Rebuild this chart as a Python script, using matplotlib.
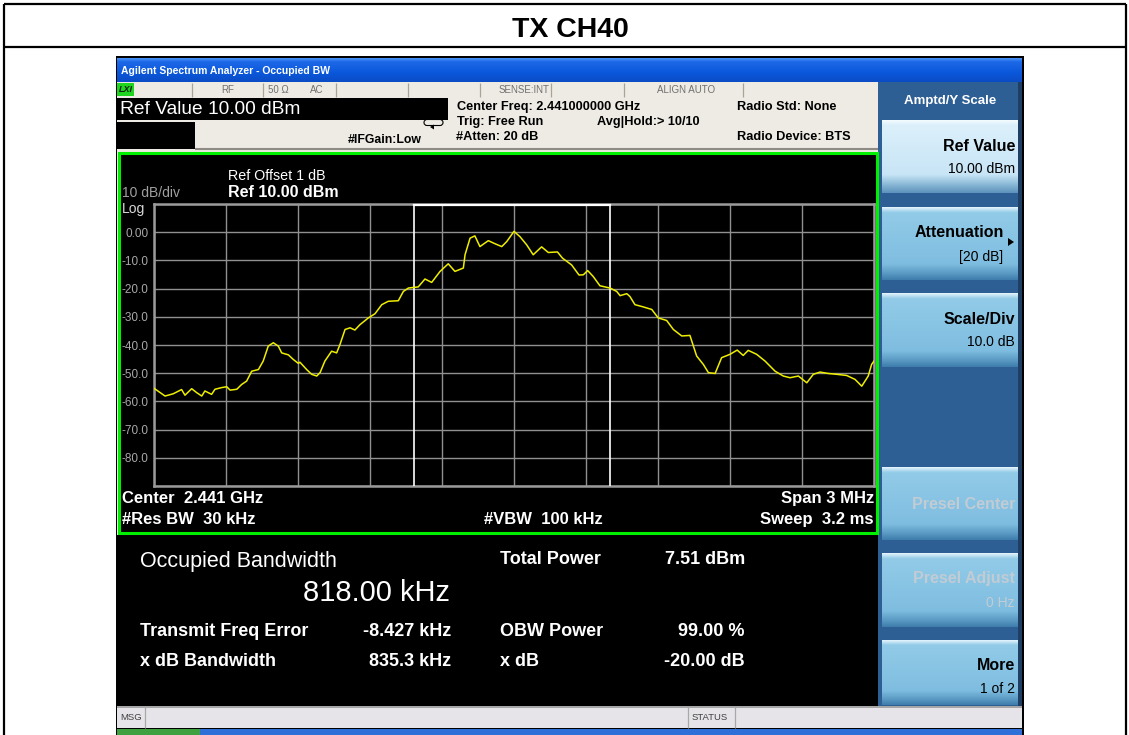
import numpy as np
import matplotlib
matplotlib.use("Agg")
import matplotlib.pyplot as plt
from matplotlib.patches import Rectangle, Polygon, FancyBboxPatch
from matplotlib.colors import to_rgb

# ---------------- data ----------------
freq_mhz = [-1.499, -1.454, -1.420, -1.385, -1.371, -1.343, -1.322, -1.301, -1.288, -1.260,
            -1.246, -1.218, -1.197, -1.183, -1.155, -1.135, -1.114, -1.093, -1.065, -1.045,
            -1.024, -1.003, -0.982, -0.968, -0.940, -0.920, -0.899, -0.892, -0.864, -0.843,
            -0.822, -0.808, -0.788, -0.760, -0.739, -0.725, -0.704, -0.683, -0.663, -0.642,
            -0.607, -0.579, -0.551, -0.524, -0.482, -0.461, -0.440, -0.399, -0.371, -0.343,
            -0.308, -0.274, -0.246, -0.211, -0.204, -0.183, -0.163, -0.142, -0.107, -0.079,
            -0.051, -0.030, 0.000, 0.025, 0.053, 0.080, 0.115, 0.143, 0.181, 0.202,
            0.240, 0.271, 0.289, 0.307, 0.330, 0.358, 0.400, 0.428, 0.442, 0.470,
            0.483, 0.504, 0.539, 0.574, 0.601, 0.636, 0.664, 0.699, 0.733, 0.761,
            0.789, 0.810, 0.838, 0.865, 0.900, 0.930, 0.955, 0.976, 1.011, 1.046,
            1.088, 1.122, 1.150, 1.185, 1.220, 1.247, 1.275, 1.310, 1.345, 1.386,
            1.421, 1.449, 1.476, 1.490, 1.500]
level_dbm = [-55.4, -58.1, -57.3, -55.8, -57.8, -55.5, -56.9, -58.1, -56.3, -57.5,
             -55.7, -55.1, -54.8, -56.0, -55.7, -54.0, -52.8, -49.3, -48.7, -45.7,
             -40.4, -39.2, -40.4, -42.8, -43.5, -45.1, -46.5, -46.1, -48.7, -50.4,
             -51.0, -49.8, -45.7, -42.2, -42.8, -39.8, -34.5, -33.9, -34.7, -32.8,
             -30.4, -28.9, -25.7, -24.5, -24.3, -21.0, -19.8, -19.4, -16.6, -17.8,
             -13.9, -11.2, -13.9, -12.7, -8.0, -2.1, -1.3, -5.1, -3.0, -4.1,
             -5.1, -3.3, 0.3, -1.6, -4.5, -8.0, -5.2, -7.2, -7.0, -9.2,
             -11.6, -15.2, -15.1, -13.6, -15.7, -19.0, -19.8, -21.0, -22.5, -21.8,
             -22.8, -25.7, -26.5, -27.4, -30.4, -31.3, -34.5, -36.8, -36.6, -43.9,
             -46.9, -49.8, -50.1, -44.5, -43.3, -41.8, -43.7, -41.9, -43.3, -45.7,
             -49.3, -51.0, -51.6, -51.0, -53.4, -50.4, -49.6, -50.1, -50.4, -50.8,
             -52.2, -54.6, -51.0, -46.9, -45.7]

span_mhz = 3.0
ref_level_dbm = 10.0
scale_db_per_div = 10.0
obw_khz = 818.00
freq_err_khz = -8.427
ytick_values = [0, -10, -20, -30, -40, -50, -60, -70, -80]
ytick_labels = ["0.00", "-10.0", "-20.0", "-30.0", "-40.0", "-50.0", "-60.0", "-70.0", "-80.0"]

result_rows = [("Transmit Freq Error", "-8.427 kHz", "OBW Power", "99.00 %"),
               ("x dB Bandwidth", "835.3 kHz", "x dB", "-20.00 dB")]

FONT = ["Liberation Sans", "DejaVu Sans"]
plt.rcParams["font.family"] = FONT

W, H = 1129, 735
fig = plt.figure(figsize=(W / 100, H / 100), dpi=100)
fig.patch.set_facecolor("white")
bg = fig.add_axes([0, 0, 1, 1])
bg.set_xlim(0, W)
bg.set_ylim(H, 0)
bg.axis("off")


def rect(x0, y0, x1, y1, fc, ec="none", lw=0, z=1):
    bg.add_patch(Rectangle((x0, y0), x1 - x0, y1 - y0, facecolor=fc,
                           edgecolor=ec, linewidth=lw, zorder=z))


def grad(x0, y0, x1, y1, stops, z=1):
    t = np.linspace(0, 1, 80)
    pos = [s[0] for s in stops]
    cols = np.array([to_rgb(s[1]) for s in stops])
    arr = np.stack([np.interp(t, pos, cols[:, i]) for i in range(3)], axis=-1)[:, None, :]
    bg.imshow(arr, extent=(x0, x1, y1, y0), aspect="auto", zorder=z,
              interpolation="bilinear")


def txt(x, y, s, size=9, color="black", weight="normal", ha="left", va="center", z=5, **kw):
    bg.text(x, y, s, fontsize=size, color=color, fontweight=weight, ha=ha, va=va,
            zorder=z, **kw)


def hline(y, x0, x1, color="black", lw=1.0, z=3):
    bg.plot([x0, x1], [y, y], color=color, lw=lw, zorder=z, solid_capstyle="butt")


def vline(x, y0, y1, color="black", lw=1.0, z=3):
    bg.plot([x, x], [y0, y1], color=color, lw=lw, zorder=z, solid_capstyle="butt")


# ---------------- outer table frame ----------------
hline(4, 4, 1126, lw=1.6)
hline(47, 4, 1126, lw=1.6)
vline(4, 4, 735, lw=1.6)
vline(1126, 4, 735, lw=1.6)
txt(570, 30, "TX CH40", size=20.5, weight="bold", ha="center")

# ---------------- analyzer window ----------------
rect(116, 56, 1024, 735, "black", z=1)
grad(117, 58, 1022, 82, [(0, "#4A93F5"), (0.15, "#1D69E8"), (0.6, "#0B58DC"), (1, "#0A4CC4")], z=2)
txt(121, 71, "Agilent Spectrum Analyzer - Occupied BW", size=7.5, color="white", weight="bold")

# status row
rect(117, 82, 878, 97, "#EEEBE4", z=2)
rect(117, 83, 134, 96, "#1FD51F", z=3)
txt(125.5, 89.5, "LXI", size=6.5, weight="bold", style="italic", ha="center", color="#102010")
for sx in [192, 263, 336, 408, 480, 551, 624, 743]:
    vline(sx, 83, 97, color="#A8A49C", lw=0.9)
txt(228, 90, "RF", size=7, color="#707070", ha="center")
txt(278, 90, "50 Ω", size=7, color="#707070", ha="center")
txt(317, 90, "AC", size=7, color="#707070", ha="center")
txt(524, 90, "SENSE:INT", size=7, color="#707070", ha="center")
txt(686, 90, "ALIGN AUTO", size=7, color="#707070", ha="center")

# info rows
rect(117, 97, 878, 151, "#EEEBE4", z=2)
rect(117, 98, 448, 120, "black", z=3)
rect(117, 122, 195, 149, "black", z=3)
hline(148.5, 195, 878, color="#8E8A84", lw=1.5)
txt(120, 109.5, "Ref Value 10.00 dBm", size=13.8, color="white")
txt(348, 140, "#IFGain:Low", size=8.8, weight="bold")
bg.add_patch(FancyBboxPatch((424, 119.5), 19, 6, boxstyle="round,pad=0,rounding_size=3",
                            facecolor="none", edgecolor="black", lw=0.8, zorder=4))
bg.add_patch(Polygon([[430, 127], [434, 124.5], [434, 129.5]], closed=True, fc="black", zorder=4))
txt(457, 106.5, "Center Freq: 2.441000000 GHz", size=9.2, weight="bold")
txt(457, 121.5, "Trig: Free Run", size=9.2, weight="bold")
txt(456, 136.5, "#Atten: 20 dB", size=9.2, weight="bold")
txt(597, 121.5, "Avg|Hold:> 10/10", size=9.2, weight="bold")
txt(737, 106.5, "Radio Std: None", size=9.2, weight="bold")
txt(737, 136.5, "Radio Device: BTS", size=9.2, weight="bold")

# green display frame
rect(117, 151, 878, 535, "#EEEBE4", z=2)
rect(119, 152.5, 877, 533, "black", ec="#00F000", lw=2.2, z=3)
txt(122, 193, "10 dB/div", size=10, color="#A0A0A0")
txt(122, 209, "Log", size=10, color="#D8D8D8")
txt(228, 176, "Ref Offset 1 dB", size=10.3, color="white")
txt(228, 192.5, "Ref 10.00 dBm", size=11.5, color="white", weight="bold")
txt(122, 498, "Center  2.441 GHz", size=12, color="white", weight="bold")
txt(122, 519.5, "#Res BW  30 kHz", size=12, color="white", weight="bold")
txt(484, 519.5, "#VBW  100 kHz", size=12, color="white", weight="bold")
txt(874, 498, "Span 3 MHz", size=12, color="white", weight="bold", ha="right")
txt(874, 519.5, "Sweep  3.2 ms", size=12, color="white", weight="bold", ha="right")

# results panel
rect(117, 539, 877, 706, "black", z=3)
txt(140, 562, "Occupied Bandwidth", size=15.5, color="white")
txt(450, 593, "818.00 kHz", size=21, color="white", ha="right")
txt(500, 559, "Total Power", size=13, color="white", weight="bold")
txt(745, 559, "7.51 dBm", size=13, color="white", weight="bold", ha="right")
for i, (l1, v1, l2, v2) in enumerate(result_rows):
    yy = 631 + i * 31
    txt(140, yy, l1, size=13, color="white", weight="bold")
    txt(451, yy, v1, size=13, color="white", weight="bold", ha="right")
    txt(500, yy, l2, size=13, color="white", weight="bold")
    txt(745, yy, v2, size=13, color="white", weight="bold", ha="right")

# status bar
rect(117, 706, 1022, 728, "#E6E4E8", z=3)
hline(707, 117, 1022, color="#9A9A9A", lw=1.2, z=4)
vline(145, 707, 728, color="#A8A8A8", lw=0.9, z=4)
vline(688, 707, 728, color="#A8A8A8", lw=0.9, z=4)
vline(735, 707, 728, color="#A8A8A8", lw=0.9, z=4)
txt(120, 718, "MSG", size=6.8, color="#404040", z=5)
txt(692, 718, "STATUS", size=6.8, color="#404040", z=5)
rect(117, 729, 200, 735, "#3FA03F", z=3)
rect(200, 729, 1022, 735, "#2F6FD8", z=3)

# softkey panel
rect(878, 82, 1022, 706, "#2D5E94", z=2)
rect(1018, 82, 1022, 706, "#1E3E64", z=3)
txt(950, 101, "Amptd/Y Scale", size=9.5, color="white", weight="bold", ha="center")
active = [(0, "#F4FBFF"), (0.06, "#DCF0FB"), (0.75, "#C8E5F6"), (0.88, "#8DBBD8"), (1, "#5D93BC")]
normal = [(0, "#E2F2FB"), (0.07, "#92CBE8"), (0.78, "#7FBDE0"), (0.9, "#5E9EC6"), (1, "#3F7EAD")]
buttons = [(120, 193, active), (207, 280, normal), (293, 367, normal),
           (467, 540, normal), (553, 627, normal), (640, 705, normal)]
for (y0, y1, st) in buttons:
    grad(882, y0, 1018, y1, st, z=3)
txt(1015, 146, "Ref Value", size=11.5, weight="bold", ha="right")
txt(1015, 169, "10.00 dBm", size=10, ha="right")
txt(1004, 232, "Attenuation", size=11.5, weight="bold", ha="right")
bg.add_patch(Polygon([[1008, 238], [1008, 246], [1014, 242]], closed=True, fc="black", zorder=5))
txt(1003, 257, "[20 dB]", size=10, ha="right")
txt(1015, 319, "Scale/Div", size=11.5, weight="bold", ha="right")
txt(1015, 342, "10.0 dB", size=10, ha="right")
txt(1015, 504, "Presel Center", size=11.5, weight="bold", ha="right", color="#C2CCD4")
txt(1015, 579, "Presel Adjust", size=11.5, weight="bold", ha="right", color="#C2CCD4")
txt(1015, 603, "0 Hz", size=10, ha="right", color="#C2CCD4")
txt(1015, 665, "More", size=11.5, weight="bold", ha="right")
txt(1015, 689, "1 of 2", size=10, ha="right")

bg.set_xlim(0, W)
bg.set_ylim(H, 0)

# ---------------- spectrum plot ----------------
px0, px1, py0, py1 = 154, 874, 204, 486
ax = fig.add_axes([px0 / W, 1 - py1 / H, (px1 - px0) / W, (py1 - py0) / H])
ax.set_facecolor("black")
half = span_mhz / 2
bottom = ref_level_dbm - 10 * scale_db_per_div
ax.set_xlim(-half, half)
ax.set_ylim(bottom, ref_level_dbm)
ax.set_xticks(np.linspace(-half, half, 11))
ax.set_xticklabels([])
ax.set_yticks(ytick_values)
ax.set_yticklabels(ytick_labels)
ax.set_yticks(np.linspace(bottom, ref_level_dbm, 11), minor=True)
ax.grid(True, which="major", color="#909090", lw=1.0)
ax.grid(True, which="minor", axis="y", color="#909090", lw=1.0)
ax.tick_params(axis="both", which="both", length=0)
ax.tick_params(axis="y", labelcolor="#A8A8A8", labelsize=8.5, pad=4)
for sp in ax.spines.values():
    sp.set_color("#9A9A9A")
    sp.set_linewidth(1.8)

# occupied bandwidth markers
f_lo = freq_err_khz / 1000 - obw_khz / 2000
f_hi = freq_err_khz / 1000 + obw_khz / 2000
ax.plot([f_lo, f_lo], [bottom, ref_level_dbm], color="white", lw=1.2, zorder=3)
ax.plot([f_hi, f_hi], [bottom, ref_level_dbm], color="white", lw=1.2, zorder=3)
ax.plot([f_lo, f_hi], [ref_level_dbm - 0.3, ref_level_dbm - 0.3], color="white", lw=1.6,
        zorder=4, clip_on=False)

ax.plot(freq_mhz, level_dbm, color="#EEEE00", lw=1.1, zorder=5)

fig.savefig("out.png", dpi=100, facecolor="white")
